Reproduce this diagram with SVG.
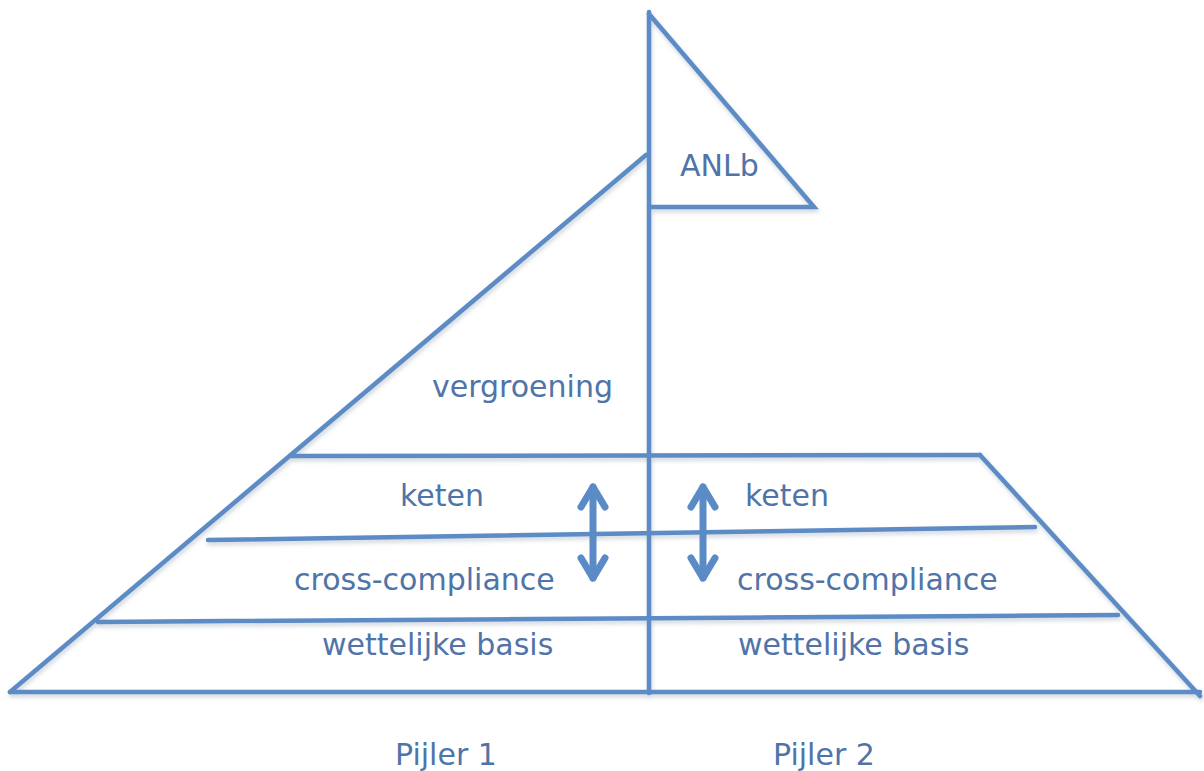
<svg xmlns="http://www.w3.org/2000/svg" width="1204" height="771" viewBox="0 0 1204 771">
<defs>
<filter id="sh" x="-5%" y="-5%" width="110%" height="120%">
<feDropShadow dx="1" dy="3" stdDeviation="2" flood-color="#7a8a9a" flood-opacity="0.35"/>
</filter>
</defs>
<style>
.ln{stroke:#5b8bc6;stroke-width:4.5;fill:none;stroke-linecap:round;stroke-linejoin:miter}
.ar{stroke:#5b8bc6;stroke-width:7;fill:none;stroke-linecap:round;stroke-linejoin:round}
.t{font-family:"DejaVu Sans","Liberation Sans",sans-serif;font-size:30px;fill:#4f74a8}
</style>
<rect width="1204" height="771" fill="#ffffff"/>
<g id="pyramid" filter="url(#sh)">
<line class="ln" x1="646" y1="155" x2="10" y2="692"/>
<line class="ln" x1="10" y1="692" x2="1200" y2="692"/>
<line class="ln" x1="980" y1="455" x2="1200" y2="696"/>
<line class="ln" x1="291" y1="456" x2="980" y2="455"/>
<line class="ln" x1="208" y1="540" x2="1035" y2="527"/>
<line class="ln" x1="98" y1="622" x2="1118" y2="615"/>
<line class="ln" x1="649" y1="12" x2="649" y2="693"/>
<polyline class="ln" points="649,14 814,207 649,207"/>
</g>
<g id="connectors">
<g id="arrow-left">
<line class="ar" x1="593" y1="487" x2="593" y2="578"/>
<polyline class="ar" points="581,507 593,487 605,507"/>
<polyline class="ar" points="581,558 593,578 605,558"/>
</g>
<g id="arrow-right">
<line class="ar" x1="703" y1="487" x2="703" y2="578"/>
<polyline class="ar" points="691,507 703,487 715,507"/>
<polyline class="ar" points="691,558 703,578 715,558"/>
</g>
</g>
<g id="anlb"><text class="t" x="680" y="176">ANLb</text></g>
<g id="vergroening"><text class="t" x="432" y="397">vergroening</text></g>
<g id="keten-1"><text class="t" x="400" y="506">keten</text></g>
<g id="keten-2"><text class="t" x="745" y="506">keten</text></g>
<g id="cc-1"><text class="t" x="294" y="590">cross-compliance</text></g>
<g id="cc-2"><text class="t" x="737" y="590">cross-compliance</text></g>
<g id="wb-1"><text class="t" x="322" y="655">wettelijke basis</text></g>
<g id="wb-2"><text class="t" x="738" y="655">wettelijke basis</text></g>
<g id="pijler-1"><text class="t" x="395" y="765">Pijler 1</text></g>
<g id="pijler-2"><text class="t" x="773" y="765">Pijler 2</text></g>
</svg>
